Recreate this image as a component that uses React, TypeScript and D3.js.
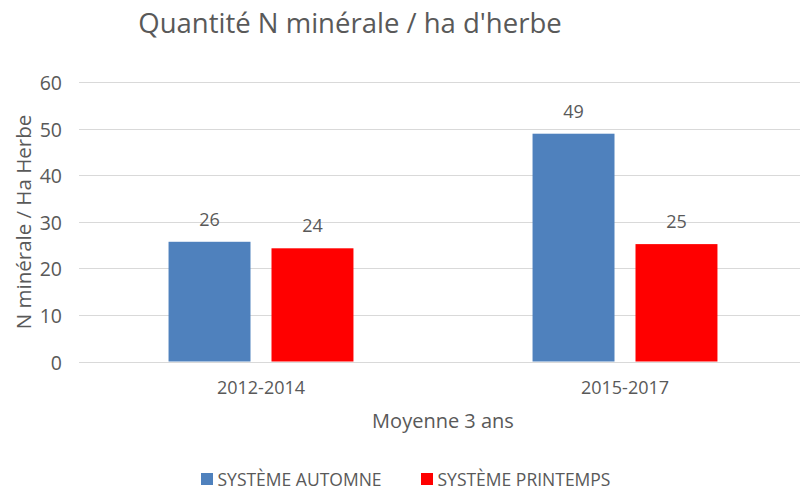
import React from 'react';
import * as d3 from 'd3';

const categories = ['2012-2014', '2015-2017'];
const series = ['SYSTÈME AUTOMNE', 'SYSTÈME PRINTEMPS'];
const automne = [25.7, 48.9];
const printemps = [24.3, 25.2];
const yTicks = [0, 10, 20, 30, 40, 50, 60];
const colors = ['#4f81bd', '#ff0000'];

const W = 800, H = 490;
const font = 'Open Sans, sans-serif';
const textColor = '#595959';

export default function App() {
  const margin = { top: 82, left: 79, bottom: 128.5 };
  const y = d3.scaleLinear().domain([0, 60]).range([H - margin.bottom, margin.top]);
  const x0 = d3.scaleBand<string>().domain(categories).range([margin.left, 807]).paddingInner(0.492).paddingOuter(0.246);
  const x1 = d3.scaleBand<string>().domain(series).range([0, x0.bandwidth()]).paddingInner(0.204);
  const values = [automne, printemps];

  return (
    <svg width={W} height={H} style={{ position: 'absolute', left: 0, top: 0, background: '#fff' }}>
      <text x={350} y={33} textAnchor="middle" fontFamily={font} fontSize={27.5} fill={textColor}>
        Quantité N minérale / ha d'herbe
      </text>
      {yTicks.map(t => (
        <g key={t}>
          <line x1={margin.left} x2={W} y1={Math.round(y(t)) + 0.5} y2={Math.round(y(t)) + 0.5} stroke="#d9d9d9" strokeWidth={1} />
          <text x={62} y={y(t) + 8} textAnchor="end" fontFamily={font} fontSize={19.5} fill={textColor}>{t}</text>
        </g>
      ))}
      <text transform={`translate(31,222) rotate(-90)`} textAnchor="middle" fontFamily={font} fontSize={20.5} fill={textColor}>
        N minérale / Ha Herbe
      </text>
      {categories.map((c, i) => (
        <g key={c} transform={`translate(${x0(c)},0)`}>
          {series.map((s, j) => {
            const v = values[j][i];
            const bx = x1(s)!;
            return (
              <g key={s}>
                <rect x={bx} y={y(v)} width={x1.bandwidth()} height={y(0) - y(v)} fill={colors[j]} />
                <text x={bx + x1.bandwidth() / 2} y={y(v) - 16} textAnchor="middle" fontFamily={font} fontSize={18} fill={textColor}>
                  {Math.round(v)}
                </text>
              </g>
            );
          })}
          <text x={x0.bandwidth() / 2} y={394} textAnchor="middle" fontFamily={font} fontSize={18} fill={textColor}>{c}</text>
        </g>
      ))}
      <text x={443} y={428} textAnchor="middle" fontFamily={font} fontSize={20} fill={textColor}>Moyenne 3 ans</text>
      {series.map((s, j) => {
        const lx = j === 0 ? 201 : 421;
        return (
          <g key={s}>
            <rect x={lx} y={473} width={12} height={12} fill={colors[j]} />
            <text x={lx + 16.5} y={485.5} fontFamily={font} fontSize={17.5} fill={textColor}>{s}</text>
          </g>
        );
      })}
    </svg>
  );
}
